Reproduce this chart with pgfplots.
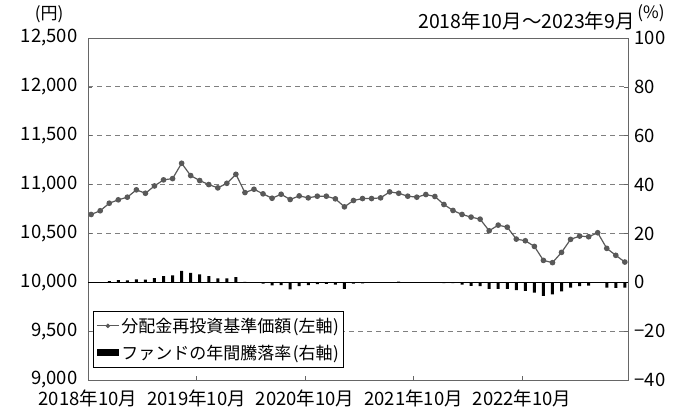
\documentclass[border=0pt]{standalone}
\usepackage{fontspec}
\setmainfont{Noto Sans CJK JP}
\usepackage{pgfplots}
\pgfplotsset{compat=1.18}
\definecolor{linegray}{HTML}{595959}
\definecolor{gridgray}{HTML}{7F7F7F}
\definecolor{framegray}{HTML}{666666}

\pgfplotstableread{
i nav
0 10694
1 10732
2 10809
3 10844
4 10871
5 10946
6 10911
7 10986
8 11048
9 11061
10 11218
11 11092
12 11041
13 11000
14 10966
15 11013
16 11105
17 10918
18 10952
19 10905
20 10860
21 10901
22 10847
23 10884
24 10864
25 10881
26 10881
27 10854
28 10772
29 10837
30 10857
31 10857
32 10864
33 10925
34 10911
35 10881
36 10871
37 10898
38 10878
39 10796
40 10735
41 10694
42 10667
43 10646
44 10527
45 10585
46 10564
47 10442
48 10425
49 10367
50 10224
51 10201
52 10306
53 10439
54 10473
55 10466
56 10507
57 10347
58 10276
59 10207
}\navtable

\pgfplotstableread{
i ret
0 0
1 0
2 0.5
3 0.9
4 0.8
5 1.2
6 1.1
7 1.7
8 2.5
9 2.8
10 4.7
11 3.9
12 3.2
13 2.5
14 1.6
15 1.6
16 2.1
17 0.2
18 -0.2
19 -0.5
20 -1.3
21 -1.2
22 -2.9
23 -1.6
24 -1.2
25 -0.8
26 -0.7
27 -1.0
28 -2.7
29 -0.6
30 -0.4
31 -0.2
32 0
33 0
34 0.3
35 0
36 0
37 0
38 0
39 -0.3
40 -0.3
41 -1.0
42 -1.5
43 -1.6
44 -2.7
45 -2.7
46 -2.7
47 -3.2
48 -3.5
49 -4.2
50 -5.6
51 -5.0
52 -3.7
53 -2.2
54 -1.6
55 -1.4
56 0
57 -2.2
58 -2.3
59 -2.2
}\rettable

\begin{document}
\begin{tikzpicture}[x=1pt,y=1pt]
\useasboundingbox (0,0) rectangle (675,412);
\pgfplotsset{
  common/.style={
    at={(88pt,32pt)}, anchor=south west,
    width=540pt, height=342pt, scale only axis,
    xmin=-0.35, xmax=59.35,
    tick align=inside,
    major tick length=4pt,
    tick style={framegray, line width=0.6pt},
    ticklabel style={font=\fontsize{18.5}{20}\selectfont},
    scaled y ticks=false,
  }
}
\begin{axis}[common,
  ymin=9000, ymax=12500,
  axis line style={framegray, line width=0.8pt},
  xtick={-0.35,11.65,23.65,35.65,47.65},
  xticklabels={2018年10月,2019年10月,2020年10月,2021年10月,2022年10月},
  xtick pos=bottom,
  ytick pos=left,
  ytick={9000,9500,10000,10500,11000,11500,12000,12500},
  yticklabels={{9,000},{9,500},{10,000},{10,500},{11,000},{11,500},{12,000},{12,500}},
  yticklabel style={xshift=-7pt},
  xticklabel style={yshift=-6pt},
  ymajorgrids,
  major grid style={gridgray, line width=0.8pt, dash pattern=on 5pt off 4pt},
]
\addplot[linegray, line width=1.2pt, mark=*, mark size=2.2pt, mark options={fill=linegray, draw=linegray}] table[x=i, y=nav] {\navtable};
\end{axis}

\begin{axis}[common,
  ymin=-40, ymax=100,
  axis x line=none,
  axis y line*=right,
  axis line style={framegray, line width=0.8pt},
  ytick={-40,-20,0,20,40,60,80,100},
  yticklabels={−40,−20,0,20,40,60,80,100},
  yticklabel style={xshift=3pt},
  legend style={at={(0.0093,0.035)}, anchor=south west, draw=black, line width=0.8pt,
    fill=white, font=\fontsize{17}{19}\selectfont, inner xsep=3pt, inner ysep=5pt,
    row sep=7pt, cells={anchor=west}},
]
\draw[black, line width=0.9pt] (axis cs:-0.35,0) -- (axis cs:59.35,0);
\addlegendimage{legend image code/.code={\draw[linegray, line width=0.9pt] (0pt,0pt) -- (22pt,0pt); \fill[linegray] (11pt,0pt) circle (1.8pt);}}
\addlegendentry{分配金再投資基準価額\hspace{1.5pt}(左軸\hspace{0.5pt})}
\addplot[ybar, bar width=3pt, fill=black, draw=none,
  legend image code/.code={\fill[black] (0pt,-3.5pt) rectangle (22pt,3.5pt);}]
  table[x=i, y=ret] {\rettable};
\addlegendentry{ファンドの年間騰落率\hspace{1.5pt}(右軸\hspace{0.5pt})}
\end{axis}

\node[anchor=center, font=\fontsize{17}{20}\selectfont] at (49,398) {(円)};
\node[anchor=east, font=\fontsize{19.5}{22}\selectfont, inner sep=0pt] at (635,391) {2018年10月～2023年9月};
\node[anchor=center, font=\fontsize{17}{20}\selectfont, inner sep=0pt] at (651,399) {(\%)};
\end{tikzpicture}
\end{document}
